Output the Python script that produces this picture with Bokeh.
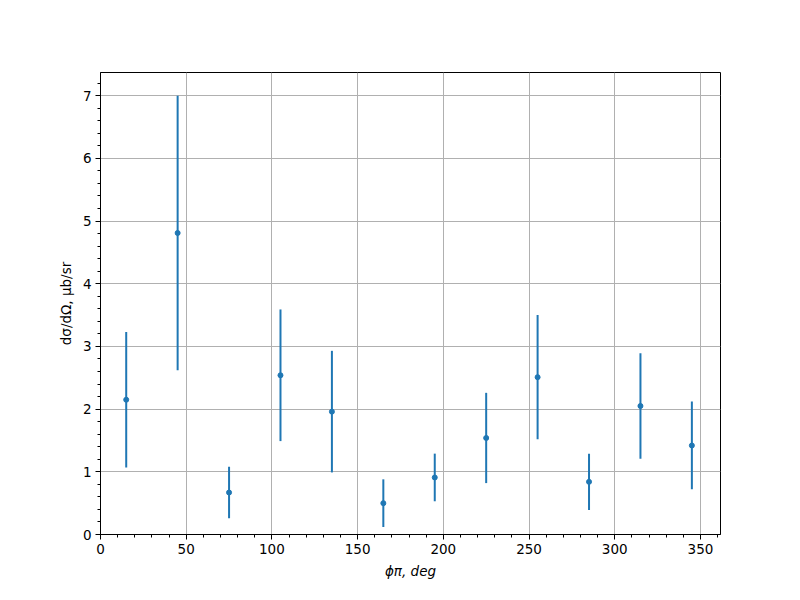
from bokeh.plotting import figure
from bokeh.models import ColumnDataSource, Range1d, SingleIntervalTicker
from bokeh.embed import file_html
from bokeh.resources import INLINE

phi = [15, 45, 75, 105, 135, 165, 195, 225, 255, 285, 315, 345]
xsec = [2.15, 4.81, 0.67, 2.54, 1.96, 0.50, 0.91, 1.54, 2.51, 0.84, 2.05, 1.42]
err = [1.08, 2.19, 0.41, 1.05, 0.97, 0.38, 0.38, 0.72, 0.99, 0.45, 0.84, 0.70]

src = ColumnDataSource(dict(
    x=phi, y=xsec,
    lo=[v - e for v, e in zip(xsec, err)],
    hi=[v + e for v, e in zip(xsec, err)],
))

p = figure(width=784, height=584, output_backend="svg", toolbar_location=None,
           x_range=Range1d(0, 361.7), y_range=Range1d(0, 7.37),
           min_border_left=100, min_border_right=64, min_border_top=72, min_border_bottom=50)

p.outline_line_color = "black"
p.outline_line_width = 1
p.background_fill_color = "white"
p.border_fill_color = "white"

p.xaxis.ticker = SingleIntervalTicker(interval=50, num_minor_ticks=5)
p.yaxis.ticker = SingleIntervalTicker(interval=1, num_minor_ticks=5)

for ax in (p.xaxis, p.yaxis):
    ax.axis_line_color = "black"
    ax.major_tick_in = 0
    ax.major_tick_out = 5
    ax.minor_tick_in = 0
    ax.minor_tick_out = 3
    ax.major_tick_line_color = "black"
    ax.minor_tick_line_color = "black"
    ax.major_label_text_font = "DejaVu Sans"
    ax.major_label_text_font_size = "13.5px"
    ax.major_label_text_color = "black"
    ax.axis_label_text_font = "DejaVu Sans"
    ax.axis_label_text_font_size = "13.5px"
    ax.axis_label_text_color = "black"
    ax.axis_label_text_font_style = "normal"
    ax.axis_label_standoff = 6

p.xaxis.axis_label = "ϕπ, deg"
p.xaxis.axis_label_text_font_style = "italic"
p.yaxis.axis_label = "dσ/dΩ, μb/sr"
p.yaxis.major_label_standoff = 4
p.xaxis.major_label_standoff = 4

for g in (p.xgrid, p.ygrid):
    g.grid_line_color = "#b0b0b0"
    g.grid_line_width = 1

p.segment(x0="x", y0="lo", x1="x", y1="hi", source=src, line_color="#1f77b4", line_width=2)
p.scatter(x="x", y="y", source=src, size=5, fill_color="#1f77b4", line_color="#1f77b4")

open("out.html", "w").write(file_html(p, INLINE))
